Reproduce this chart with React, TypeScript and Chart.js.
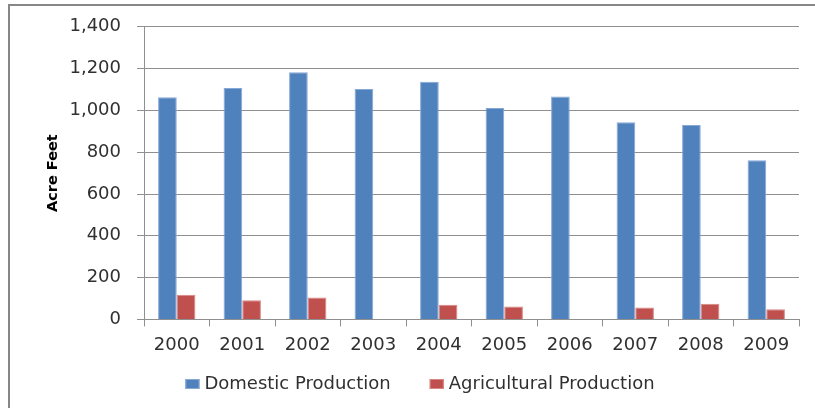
import React, { useEffect, useRef } from 'react';
import { Chart, registerables } from 'chart.js';

Chart.register(...registerables);

const years = ['2000', '2001', '2002', '2003', '2004', '2005', '2006', '2007', '2008', '2009'];
const domesticProduction = [1063, 1107, 1182, 1102, 1137, 1011, 1067, 943, 930, 761];
const agriculturalProduction = [118, 92, 105, null, 70, 62, null, 57, 75, 49];
const seriesNames = ['Domestic Production', 'Agricultural Production'];
const yAxisTitle = 'Acre Feet';
const yMin = 0;
const yMax = 1400;
const yStep = 200;

const FONT = '"DejaVu Sans", sans-serif';
const GRID = '#8f8f8f';
const TEXT = '#303030';

// Legend drawn by a small Chart.js plugin, from the chart's own datasets.
const bottomLegend = {
  id: 'bottomLegend',
  afterDraw(chart: any) {
    const ctx = chart.ctx as CanvasRenderingContext2D;
    const boxW = 14;
    const boxH = 10;
    const textGap = 5;
    const itemGap = 39;
    const centerX = 420;
    const centerY = 384;
    ctx.save();
    ctx.font = `18px ${FONT}`;
    ctx.textBaseline = 'middle';
    ctx.textAlign = 'left';
    const items = chart.data.datasets.map((ds: any) => ({
      text: ds.label as string,
      fill: ds.backgroundColor as string,
      stroke: ds.borderColor as string,
    }));
    const widths = items.map((it: any) => boxW + textGap + ctx.measureText(it.text).width);
    const total = widths.reduce((a: number, b: number) => a + b, 0) + itemGap * (items.length - 1);
    let x = centerX - total / 2;
    items.forEach((it: any, i: number) => {
      ctx.fillStyle = it.fill;
      ctx.fillRect(x, centerY - boxH / 2, boxW, boxH);
      ctx.strokeStyle = it.stroke;
      ctx.lineWidth = 1;
      ctx.strokeRect(x + 0.5, centerY - boxH / 2 + 0.5, boxW - 1, boxH - 1);
      ctx.fillStyle = TEXT;
      ctx.fillText(it.text, x + boxW + textGap, centerY);
      x += widths[i] + itemGap;
    });
    ctx.restore();
  },
};

export default function App() {
  const canvasRef = useRef<HTMLCanvasElement | null>(null);

  useEffect(() => {
    if (!canvasRef.current) return;
    const chart = new Chart(canvasRef.current, {
      type: 'bar',
      data: {
        labels: years,
        datasets: [
          {
            label: seriesNames[0],
            data: domesticProduction,
            backgroundColor: '#4f81bd',
            borderColor: '#86a8d6',
            borderWidth: 1,
            categoryPercentage: 0.57,
            barPercentage: 1,
          },
          {
            label: seriesNames[1],
            data: agriculturalProduction,
            backgroundColor: '#c0504d',
            borderColor: '#d88583',
            borderWidth: 1,
            categoryPercentage: 0.57,
            barPercentage: 1,
          },
        ],
      },
      options: {
        responsive: false,
        animation: false,
        layout: { padding: { left: 41, right: 16, top: 15, bottom: 44 } },
        plugins: {
          legend: { display: false },
          tooltip: { enabled: false },
        },
        scales: {
          x: {
            offset: true,
            grid: { offset: true, drawOnChartArea: false, drawTicks: true, tickLength: 7, color: GRID },
            border: { color: GRID },
            ticks: { padding: 8, color: TEXT, font: { family: FONT, size: 18 }, maxRotation: 0, autoSkip: false },
          },
          y: {
            min: yMin,
            max: yMax,
            ticks: {
              stepSize: yStep,
              padding: 16,
              color: TEXT,
              font: { family: FONT, size: 18 },
              callback: (v: any) => Number(v).toLocaleString('en-US'),
            },
            grid: { tickLength: 7, color: GRID },
            border: { color: GRID },
            title: {
              display: true,
              text: yAxisTitle,
              color: '#000',
              font: { family: FONT, size: 14.5, weight: 'bold' },
              padding: { top: 4, bottom: 0 },
            },
            afterFit: (s: any) => { s.width = 103; },
          },
        },
      },
      plugins: [bottomLegend],
    });
    return () => chart.destroy();
  }, []);

  return (
    <div style={{ position: 'fixed', left: 0, top: 0, width: 815, height: 408, overflow: 'hidden', background: '#fff' }}>
      <div style={{ position: 'absolute', left: 8, top: 4, width: 900, height: 500, border: '2px solid #878787', boxSizing: 'border-box' }} />
      <canvas ref={canvasRef} width={815} height={408} style={{ position: 'absolute', left: 0, top: 0 }} />
    </div>
  );
}
